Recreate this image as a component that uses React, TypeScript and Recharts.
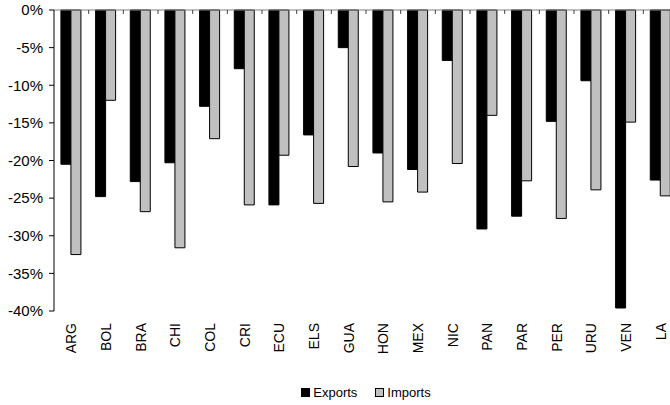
import { BarChart, Bar, XAxis, YAxis, Legend, ReferenceLine } from 'recharts';

const countries = ['ARG', 'BOL', 'BRA', 'CHI', 'COL', 'CRI', 'ECU', 'ELS', 'GUA', 'HON', 'MEX', 'NIC', 'PAN', 'PAR', 'PER', 'URU', 'VEN', 'LA'];
const exportsChange = [-20.5, -24.8, -22.8, -20.3, -12.8, -7.8, -25.9, -16.6, -5.0, -19.0, -21.2, -6.7, -29.1, -27.4, -14.8, -9.4, -39.6, -22.6];
const importsChange = [-32.5, -12.0, -26.8, -31.6, -17.1, -25.9, -19.3, -25.7, -20.8, -25.5, -24.2, -20.4, -14.0, -22.7, -27.7, -23.9, -14.9, -24.7];
const yTicks = [0, -5, -10, -15, -20, -25, -30, -35, -40];

const series = [
  { key: 'Exports', fill: '#000000', stroke: '#000000' },
  { key: 'Imports', fill: '#c0c0c0', stroke: '#000000' },
];

const data = countries.map((country, i) => ({
  country,
  Exports: exportsChange[i],
  Imports: importsChange[i],
}));

const FONT = '"Liberation Sans", Arial, sans-serif';
const CHART_W = 680;
const Y_AXIS_W = 54;
const MARGIN = { top: 10, right: 2, bottom: 3, left: 0 };
const BAND = (CHART_W - Y_AXIS_W - MARGIN.left - MARGIN.right) / countries.length;

// category label below the plot, plus a short tick hanging from the zero line
// on the right-hand boundary of the category
const CountryTick = (props: any) => {
  const { x, y, payload } = props;
  const bx = x + BAND / 2;
  return (
    <g>
      <line x1={bx} x2={bx} y1={MARGIN.top} y2={MARGIN.top + 4} stroke="#404040" strokeWidth={1} />
      <text
        x={x}
        y={y}
        transform={`rotate(-90 ${x} ${y})`}
        textAnchor="end"
        dy="0.36em"
        fontSize={14}
        fontFamily={FONT}
        fill="#000"
      >
        {payload.value}
      </text>
    </g>
  );
};

const LegendContent = () => (
  <div
    style={{
      height: 20,
      display: 'flex',
      justifyContent: 'center',
      alignItems: 'center',
      fontFamily: FONT,
      fontSize: 13,
      color: '#000',
    }}
  >
    {series.map((s, i) => (
      <div key={s.key} style={{ display: 'flex', alignItems: 'center', marginLeft: i ? 18 : 0 }}>
        <span
          style={{
            display: 'inline-block',
            width: 9,
            height: 9,
            boxSizing: 'border-box',
            background: s.fill,
            border: `1px solid ${s.stroke}`,
            marginRight: 3,
          }}
        />
        {s.key}
      </div>
    ))}
  </div>
);

export default function App() {
  return (
    <div style={{ position: 'fixed', left: 0, top: 0, width: 670, height: 405, overflow: 'hidden', background: '#fff' }}>
      <BarChart
        width={CHART_W}
        height={405}
        data={data}
        margin={MARGIN}
        barCategoryGap="20%"
        barGap={0}
      >
        <XAxis
          dataKey="country"
          orientation="bottom"
          height={71}
          interval={0}
          axisLine={false}
          tickLine={false}
          tickSize={0}
          tickMargin={12}
          tick={<CountryTick />}
        />
        <YAxis
          width={Y_AXIS_W}
          domain={[-40, 0]}
          ticks={yTicks}
          interval={0}
          tickFormatter={(v: number) => `${v}%`}
          axisLine={{ stroke: '#000' }}
          tickLine={{ stroke: '#000' }}
          tickSize={5}
          tickMargin={6}
          tick={{ fontSize: 15, fill: '#000', fontFamily: FONT }}
        />
        <ReferenceLine y={0} stroke="#808080" strokeWidth={1} />
        {series.map((s) => (
          <Bar
            key={s.key}
            dataKey={s.key}
            fill={s.fill}
            stroke={s.stroke}
            strokeWidth={1}
            isAnimationActive={false}
          />
        ))}
        <Legend verticalAlign="bottom" wrapperStyle={{ left: 54, width: 624 }} content={<LegendContent />} />
      </BarChart>
    </div>
  );
}
